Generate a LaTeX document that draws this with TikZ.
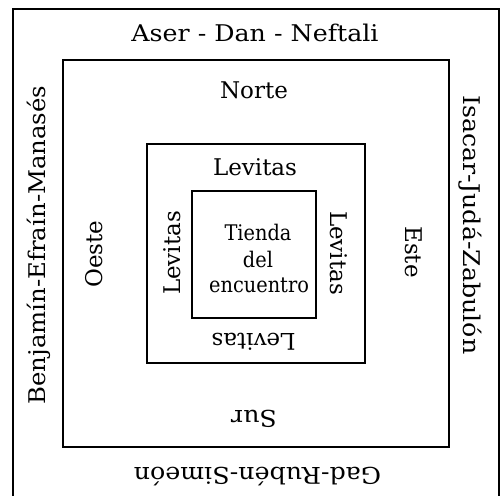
\documentclass[tikz,border=0pt]{standalone}
\usepackage{fontspec}
\setmainfont{DejaVu Serif}
\newfontfamily\widefont[FakeStretch=1.1]{DejaVu Serif}
\newfontfamily\semiwidefont[FakeStretch=1.06]{DejaVu Serif}
\newfontfamily\narrowfont[FakeStretch=0.9]{DejaVu Serif}
\begin{document}
\begin{tikzpicture}[x=1pt,y=-1pt,
  frame/.style={draw=black, line width=1.1pt},
  lbl/.style={inner sep=0pt, anchor=base, font=\fontsize{23}{26}\selectfont},
  tribe/.style={lbl, font=\widefont\fontsize{23}{26}\selectfont},
  tent/.style={inner sep=0pt, anchor=base, font=\narrowfont\fontsize{21.5}{26}\selectfont}]
  \useasboundingbox (0,0) rectangle (503,495);
  % camp frames, from the outer tribes to the tent
  \draw[frame] (13,499) -- (13,9) -- (499,9) -- (499,499);
  \draw[frame] (63,60) rectangle (449,447);
  \draw[frame] (147,144) rectangle (365,363);
  \node[frame, minimum width=124pt, minimum height=127pt, inner sep=0pt] (tienda) at (254,254.5) {};
  \node[tent] (t1) at (258,240) {Tienda};
  \node[tent] (t2) at (258,267) {del};
  \node[tent] (t3) at (259,292) {encuentro};
  % Levites around the tent
  \node[lbl] (levN) at (255,175) {Levitas};
  \node[lbl, rotate=180] (levS) at (253.5,333) {Levitas};
  \node[lbl, rotate=90] (levW) at (180,253) {Levitas};
  \node[lbl, rotate=-90] (levE) at (330,253) {Levitas};
  % cardinal points
  \node[lbl] (norte) at (254,98) {Norte};
  \node[tribe, rotate=180] (sur) at (254,410) {Sur};
  \node[lbl, rotate=90] (oeste) at (102,254) {Oeste};
  \node[lbl, rotate=-90] (este) at (405,252) {Este};
  % tribes
  \node[tribe] (north) at (255,42) {Aser - Dan - Neftali};
  \node[tribe, rotate=180] (south) at (257.5,467) {Gad-Rubén-Simeón};
  \node[lbl, rotate=90, font=\semiwidefont\fontsize{23}{26}\selectfont] (west) at (45,245) {Benjamín-Efraín-Manasés};
  \node[tribe, rotate=-90] (east) at (463,225) {Isacar-Judá-Zabulón};
\end{tikzpicture}
\end{document}
